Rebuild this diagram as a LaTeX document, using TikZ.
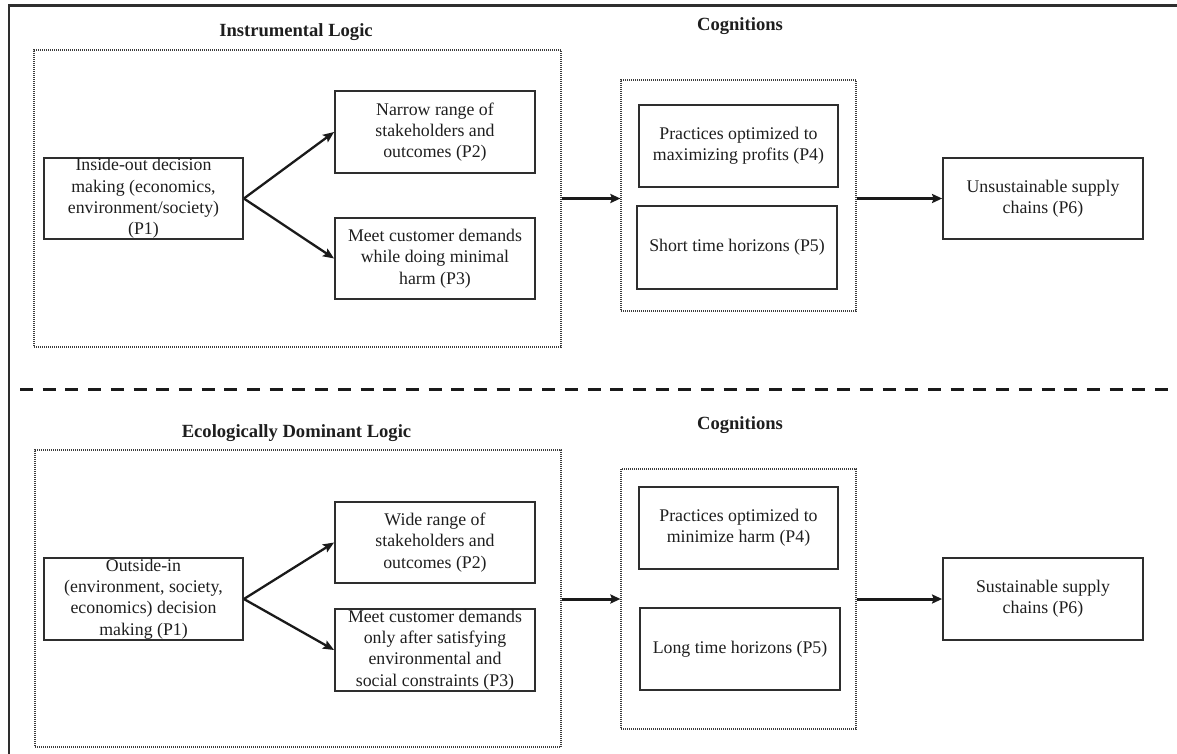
\documentclass[tikz,border=0pt]{standalone}
\usepackage{fontspec}
\setmainfont{Liberation Serif}
\usetikzlibrary{arrows.meta}
\definecolor{boxc}{HTML}{2E2E2E}
\definecolor{dotc}{HTML}{3C3C3C}
\definecolor{txtc}{HTML}{1E1E1E}
\definecolor{arrc}{HTML}{1A1A1A}
\newcommand{\bodyfont}{\fontsize{17.8}{21.3}\selectfont}
\newcommand{\titlefont}{\fontsize{18.6}{22}\selectfont\bfseries}
\begin{document}
\begin{tikzpicture}[x=1pt,y=-1pt,
  box/.style={draw=boxc, line width=1.8pt, inner sep=0pt, align=center, font=\bodyfont, text=txtc},
  grp/.style={draw=dotc, line width=1.2pt, dash pattern=on 1pt off 1pt, inner sep=0pt},
  ttl/.style={font=\titlefont, text=txtc, inner sep=0pt},
  arr/.style={draw=arrc, line width=2.3pt, -{Stealth[length=11pt,width=9pt,inset=2pt]}},
  flow/.style={draw=arrc, line width=3pt, -{Stealth[length=10pt,width=9pt,inset=1.5pt]}},
  frame/.style={draw=boxc, line width=2.6pt},
  divider/.style={draw=arrc, line width=3pt, dash pattern=on 13pt off 9.7pt}
]
\useasboundingbox (0,0) rectangle (1177,754);

% outer frame and divider
\draw[frame] (9,754) -- (9,5.5) -- (1177,5.5);
\coordinate (dl) at (20,389);
\coordinate (dr) at (1177,389);
\draw[divider] (dl) -- (dr);

% ---------- top half ----------
\node[ttl] (t1) at (296,32) {Instrumental Logic};
\node[ttl] (c1) at (740,26) {Cognitions};

\node[grp, minimum width=527pt, minimum height=297pt] (g1) at (297.5,198.5) {};
\node[grp, minimum width=235pt, minimum height=231pt] (k1) at (738.5,195.5) {};

\node[box, minimum width=199pt, minimum height=81pt] (p1) at (143.5,198.5)
  {Inside-out decision\\making (economics,\\environment/society)\\(P1)};
\node[box, minimum width=200pt, minimum height=82pt] (p2) at (435,132)
  {Narrow range of\\stakeholders and\\outcomes (P2)};
\node[box, minimum width=200pt, minimum height=81pt] (p3) at (435,258.5)
  {Meet customer demands\\while doing minimal\\harm (P3)};
\node[box, minimum width=199pt, minimum height=82pt] (p4) at (738.5,146)
  {Practices optimized to\\maximizing profits (P4)};
\node[box, minimum width=200pt, minimum height=83pt] (p5) at (737,247.5)
  {Short time horizons (P5)};
\node[box, minimum width=200pt, minimum height=81pt] (p6) at (1043,198.5)
  {Unsustainable supply\\chains (P6)};

\draw[arr] (p1.east) -- (p2.west);
\draw[arr] (p1.east) -- (p3.west);
\draw[flow] (g1.east |- p1.east) -- (k1.west |- p1.east);
\draw[flow] (k1.east |- p6.west) -- (p6.west);

% ---------- bottom half ----------
\node[ttl] (t2) at (296.5,433) {Ecologically Dominant Logic};
\node[ttl] (c2) at (740,425) {Cognitions};

\node[grp, minimum width=526pt, minimum height=297pt] (g2) at (298,598.5) {};
\node[grp, minimum width=235pt, minimum height=260pt] (k2) at (738.5,599) {};

\node[box, minimum width=199pt, minimum height=82pt] (q1) at (143.5,599)
  {Outside-in\\(environment, society,\\economics) decision\\making (P1)};
\node[box, minimum width=200pt, minimum height=81pt] (q2) at (435,542.5)
  {Wide range of\\stakeholders and\\outcomes (P2)};
\node[box, minimum width=200pt, minimum height=82pt] (q3) at (435,650)
  {Meet customer demands\\only after satisfying\\environmental and\\social constraints (P3)};
\node[box, minimum width=199pt, minimum height=82pt] (q4) at (738.5,528)
  {Practices optimized to\\minimize harm (P4)};
\node[box, minimum width=200pt, minimum height=82pt] (q5) at (740,649)
  {Long time horizons (P5)};
\node[box, minimum width=200pt, minimum height=82pt] (q6) at (1043,599)
  {Sustainable supply\\chains (P6)};

\draw[arr] (q1.east) -- (q2.west);
\draw[arr] (q1.east) -- (q3.west);
\draw[flow] (g2.east |- q1.east) -- (k2.west |- q1.east);
\draw[flow] (k2.east |- q6.west) -- (q6.west);
\end{tikzpicture}
\end{document}
